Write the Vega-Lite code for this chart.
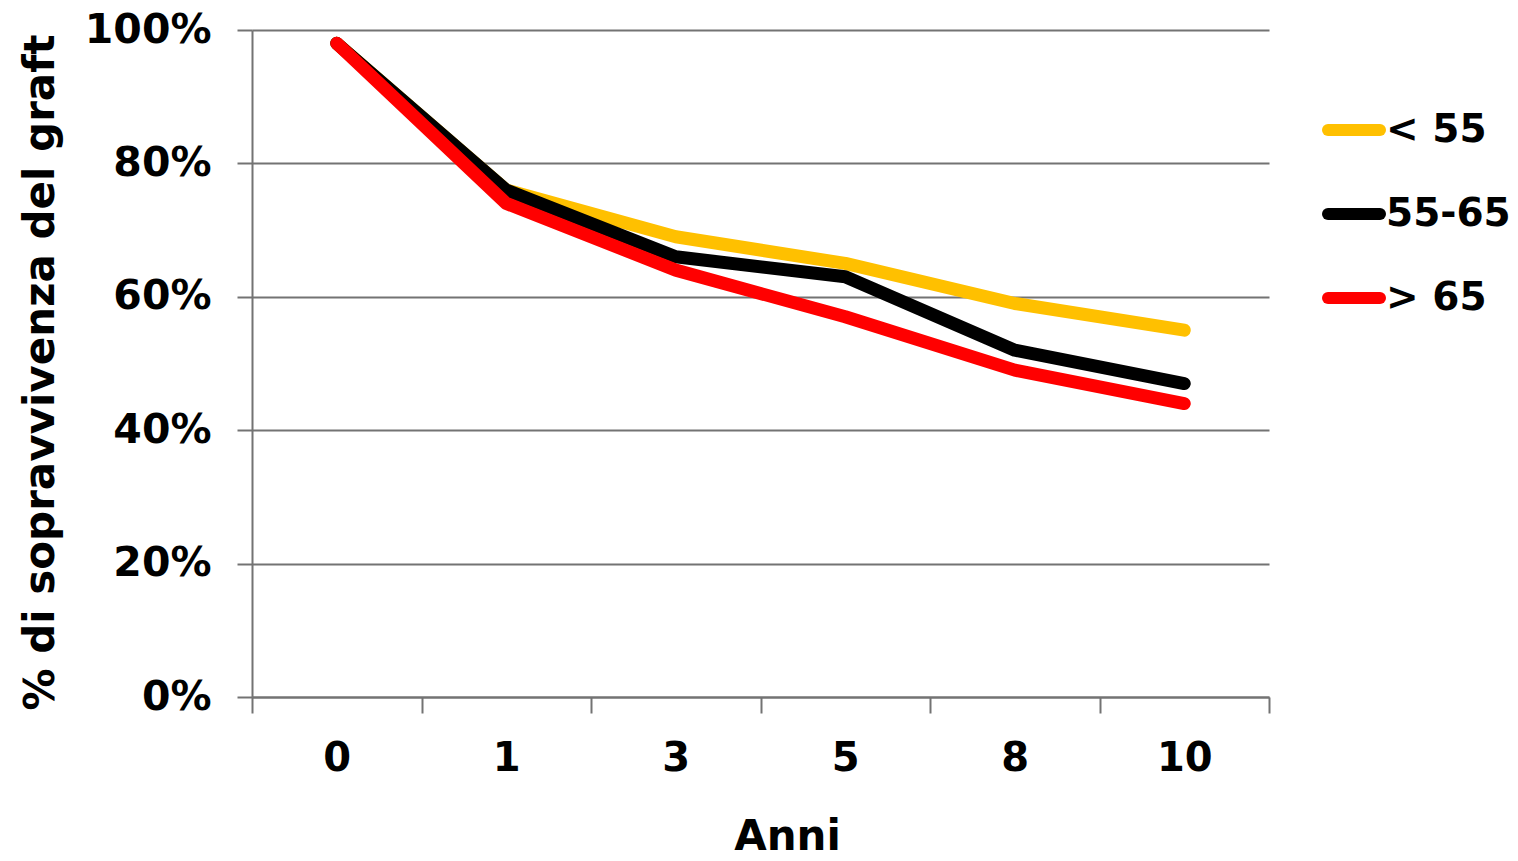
{
  "$schema": "https://vega.github.io/schema/vega-lite/v6.json",
  "autosize": "none",
  "width": 1017,
  "height": 667,
  "padding": {"left": 252, "top": 30, "right": 249, "bottom": 164},
  "background": "white",
  "config": {
    "view": {"stroke": null},
    "font": "DejaVu Sans",
    "axis": {
      "labelFont": "DejaVu Sans", "labelFontWeight": "bold", "labelFontSize": 40, "labelColor": "#000000",
      "titleFont": "DejaVu Sans", "titleFontWeight": "bold", "titleFontSize": 42, "titleColor": "#000000",
      "domainColor": "#737373", "domainWidth": 2, "tickColor": "#737373", "tickWidth": 2,
      "gridColor": "#737373", "gridWidth": 2, "gridOpacity": 1
    }
  },
  "data": {
    "values": [
      {"anni": 0, "gruppo": "< 55", "val": 0.98},
      {"anni": 1, "gruppo": "< 55", "val": 0.76},
      {"anni": 3, "gruppo": "< 55", "val": 0.69},
      {"anni": 5, "gruppo": "< 55", "val": 0.65},
      {"anni": 8, "gruppo": "< 55", "val": 0.59},
      {"anni": 10, "gruppo": "< 55", "val": 0.55},
      {"anni": 0, "gruppo": "55-65", "val": 0.98},
      {"anni": 1, "gruppo": "55-65", "val": 0.76},
      {"anni": 3, "gruppo": "55-65", "val": 0.66},
      {"anni": 5, "gruppo": "55-65", "val": 0.63},
      {"anni": 8, "gruppo": "55-65", "val": 0.52},
      {"anni": 10, "gruppo": "55-65", "val": 0.47},
      {"anni": 0, "gruppo": "> 65", "val": 0.98},
      {"anni": 1, "gruppo": "> 65", "val": 0.74},
      {"anni": 3, "gruppo": "> 65", "val": 0.64},
      {"anni": 5, "gruppo": "> 65", "val": 0.57},
      {"anni": 8, "gruppo": "> 65", "val": 0.49},
      {"anni": 10, "gruppo": "> 65", "val": 0.44}
    ]
  },
  "mark": {"type": "line", "strokeWidth": 13, "strokeCap": "round", "strokeJoin": "round"},
  "encoding": {
    "x": {
      "field": "anni", "type": "ordinal",
      "bandPosition": 0.5,
      "scale": {"type": "band", "domain": [0, 1, 3, 5, 8, 10], "paddingInner": 0, "paddingOuter": 0},
      "axis": {
        "title": "Anni", "labelAngle": 0, "tickBand": "extent", "tickSize": 16, "labelPadding": 25,
        "grid": false, "titleX": 535, "titleY": 152, "titleBaseline": "alphabetic", "titleAlign": "center"
      }
    },
    "y": {
      "field": "val", "type": "quantitative",
      "scale": {"domain": [0, 1], "nice": false},
      "axis": {
        "title": "% di sopravvivenza del graft", "format": ".0%", "values": [0, 0.2, 0.4, 0.6, 0.8, 1],
        "labelFontSize": 41,
        "tickSize": 15, "labelPadding": 26, "grid": true,
        "titleX": -212, "titleY": 342, "titleAngle": -90, "titleAlign": "center", "titleBaseline": "middle"
      }
    },
    "color": {
      "field": "gruppo", "type": "nominal",
      "scale": {"domain": ["< 55", "55-65", "> 65"], "range": ["#FFC000", "#000000", "#FF0000"]},
      "legend": {
        "title": null, "orient": "none", "legendX": 1070, "legendY": 68,
        "symbolType": "stroke", "symbolSize": 2704, "symbolStrokeWidth": 12,
        "labelFont": "DejaVu Sans", "labelFontWeight": "bold", "labelFontSize": 39, "labelColor": "#000000",
        "labelOffset": 0, "rowPadding": 28, "padding": 0,
        "encode": {"symbols": {"update": {"strokeCap": {"value": "round"}}}}
      }
    }
  }
}
